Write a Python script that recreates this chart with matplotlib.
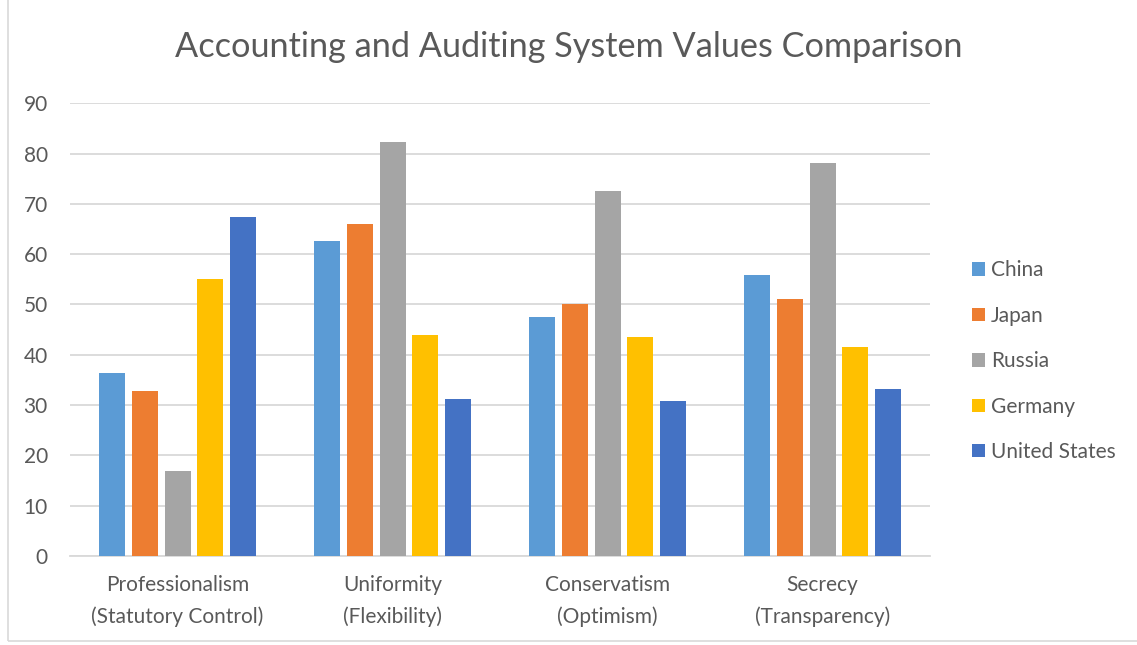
import matplotlib.pyplot as plt
import numpy as np
from matplotlib.patches import Rectangle

plt.rcParams['font.family'] = ['Lato', 'DejaVu Sans']

# --- Data ---
categories = ['Professionalism\n(Statutory Control)', 'Uniformity\n(Flexibility)',
              'Conservatism\n(Optimism)', 'Secrecy\n(Transparency)']
countries = ['China', 'Japan', 'Russia', 'Germany', 'United States']
china = [36.4, 62.7, 47.6, 55.9]
japan = [32.8, 65.9, 50.0, 51.1]
russia = [16.9, 82.2, 72.6, 78.2]
germany = [55.1, 44.0, 43.6, 41.6]
united_states = [67.4, 31.2, 30.8, 33.2]

series = [china, japan, russia, germany, united_states]
colors = ['#5B9BD5', '#ED7D31', '#A5A5A5', '#FFC000', '#4472C4']
text_color = '#595959'
grid_color = '#D9D9D9'

# --- Figure ---
fig = plt.figure(figsize=(11.37, 6.45), dpi=100)
ax = fig.add_axes([0.0616, 0.138, 0.7564, 0.702])

x = np.arange(len(categories))
step = 0.153
width = 0.121
for i, (vals, name, col) in enumerate(zip(series, countries, colors)):
    offset = (i - 2) * step
    ax.bar(x + offset, vals, width, color=col, label=name, zorder=3)

ax.set_xlim(-0.5, len(categories) - 0.5)
ax.set_ylim(0, 90)
ax.set_yticks(range(0, 91, 10))
ax.set_xticks(x)
ax.set_xticklabels(categories, linespacing=1.65)
ax.yaxis.grid(True, color=grid_color, linewidth=1.3, zorder=0)
ax.tick_params(axis='both', length=0, labelsize=15, colors=text_color)
ax.tick_params(axis='x', pad=14)
ax.tick_params(axis='y', pad=16)
for s in ['top', 'right', 'left']:
    ax.spines[s].set_visible(False)
ax.spines['bottom'].set_color(grid_color)
ax.spines['bottom'].set_linewidth(1.3)

fig.suptitle('Accounting and Auditing System Values Comparison', fontsize=24.7,
             color=text_color, y=0.927, va='center')

leg = ax.legend(loc='center left', bbox_to_anchor=(1.027, 0.43), frameon=False,
                fontsize=15, handlelength=0.6, handleheight=0.6,
                handletextpad=0.3, labelspacing=1.22)
for t in leg.get_texts():
    t.set_color(text_color)

# chart area border
fig.patches.append(Rectangle((0.007, 0.006), 1.2, 1.2, transform=fig.transFigure,
                             fill=False, edgecolor=grid_color, linewidth=1.2))

fig.savefig('out.png', dpi=100)
